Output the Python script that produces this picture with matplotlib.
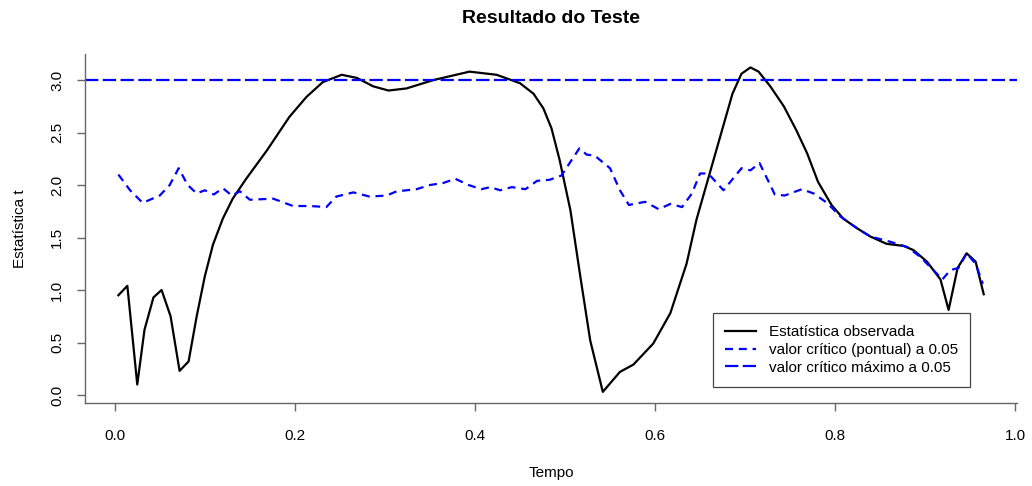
import matplotlib
matplotlib.use("Agg")
import matplotlib.pyplot as plt
import numpy as np

plt.rcParams['font.family'] = ['Liberation Sans', 'DejaVu Sans']

# observed statistic (black)
t_obs = [0.004, 0.014, 0.025, 0.033, 0.043, 0.052, 0.062, 0.072, 0.082, 0.091,
         0.100, 0.109, 0.120, 0.131, 0.146, 0.169, 0.194, 0.213, 0.231, 0.252,
         0.269, 0.287, 0.304, 0.324, 0.354, 0.394, 0.424, 0.450, 0.465, 0.476,
         0.485, 0.494, 0.506, 0.517, 0.528, 0.542, 0.561, 0.576, 0.598, 0.617,
         0.635, 0.646, 0.665, 0.676, 0.686, 0.696, 0.706, 0.715, 0.728, 0.743,
         0.757, 0.769, 0.781, 0.796, 0.809, 0.824, 0.839, 0.857, 0.876, 0.887,
         0.902, 0.917, 0.926, 0.936, 0.946, 0.956, 0.965]
y_obs = [0.95, 1.04, 0.10, 0.62, 0.93, 1.00, 0.75, 0.23, 0.32, 0.75,
         1.13, 1.43, 1.68, 1.87, 2.06, 2.33, 2.65, 2.84, 2.98, 3.05,
         3.02, 2.94, 2.90, 2.92, 3.00, 3.08, 3.05, 2.97, 2.87, 2.73,
         2.54, 2.24, 1.76, 1.13, 0.52, 0.03, 0.22, 0.29, 0.49, 0.78,
         1.25, 1.67, 2.24, 2.57, 2.87, 3.06, 3.12, 3.08, 2.94, 2.75,
         2.52, 2.30, 2.03, 1.81, 1.68, 1.59, 1.51, 1.44, 1.42, 1.38,
         1.27, 1.10, 0.81, 1.21, 1.35, 1.27, 0.96]

# pointwise critical value (blue dashed)
t_crit = [0.004, 0.017, 0.031, 0.050, 0.061, 0.071, 0.081, 0.091, 0.100, 0.110,
          0.120, 0.130, 0.139, 0.150, 0.176, 0.198, 0.217, 0.235, 0.246, 0.265,
          0.283, 0.302, 0.313, 0.335, 0.350, 0.365, 0.378, 0.393, 0.407, 0.417,
          0.428, 0.441, 0.456, 0.469, 0.483, 0.496, 0.506, 0.516, 0.524, 0.533,
          0.550, 0.561, 0.571, 0.589, 0.604, 0.617, 0.630, 0.641, 0.650, 0.659,
          0.676, 0.696, 0.706, 0.716, 0.733, 0.744, 0.763, 0.776, 0.791, 0.806,
          0.824, 0.839, 0.861, 0.880, 0.894, 0.909, 0.919, 0.928, 0.937, 0.946,
          0.956, 0.964]
y_crit = [2.10, 1.95, 1.83, 1.90, 2.00, 2.16, 2.00, 1.92, 1.95, 1.91,
          1.97, 1.90, 1.94, 1.86, 1.87, 1.80, 1.80, 1.79, 1.89, 1.93,
          1.89, 1.90, 1.94, 1.96, 2.00, 2.02, 2.06, 2.00, 1.96, 1.98,
          1.95, 1.98, 1.96, 2.04, 2.05, 2.09, 2.22, 2.35, 2.29, 2.28,
          2.16, 1.95, 1.81, 1.84, 1.77, 1.82, 1.79, 1.92, 2.11, 2.11,
          1.95, 2.16, 2.14, 2.21, 1.91, 1.90, 1.96, 1.92, 1.83, 1.70,
          1.59, 1.51, 1.46, 1.41, 1.32, 1.19, 1.10, 1.19, 1.21, 1.35,
          1.25, 1.06]

crit_max = 3.0

fig = plt.figure(figsize=(10.32, 4.86), dpi=100)
ax = fig.add_axes([0.0824, 0.1708, 0.9031, 0.7181])

ax.plot(t_obs, y_obs, color='black', lw=1.6, label='Estatística observada')
ax.plot(t_crit, y_crit, color='blue', lw=1.6, dashes=(3.6, 2.6),
        label='valor crítico (pontual) a 0.05')
ax.axhline(crit_max, color='blue', lw=1.6, dashes=(6.0, 2.0),
           label='valor crítico máximo a 0.05')

ax.set_xlim(-0.033, 1.002)
ax.set_ylim(-0.076, 3.248)
ax.set_xticks(np.arange(0, 1.01, 0.2))
ax.set_xticklabels(['0.0', '0.2', '0.4', '0.6', '0.8', '1.0'])
ax.set_yticks(np.arange(0, 3.01, 0.5))
ax.set_yticklabels(['0.0', '0.5', '1.0', '1.5', '2.0', '2.5', '3.0'],
                   rotation=90, va='center')

for s in ['top', 'right']:
    ax.spines[s].set_visible(False)
for s in ['left', 'bottom']:
    ax.spines[s].set_color('#666666')
    ax.spines[s].set_linewidth(1.0)
ax.tick_params(axis='both', colors='#666666', labelcolor='black',
               length=6, width=1.0, labelsize=11)
ax.tick_params(axis='x', pad=13)
ax.tick_params(axis='y', pad=9)

ax.set_title('Resultado do Teste', fontsize=14, fontweight='bold', pad=22)
ax.set_xlabel('Tempo', fontsize=11, labelpad=16)
ax.set_ylabel('Estatística t', fontsize=11, labelpad=17)

leg = ax.legend(loc='lower left', bbox_to_anchor=(0.674, 0.046),
                fontsize=11, fancybox=False, framealpha=1,
                edgecolor='#444444', handlelength=2.0, borderpad=0.8,
                labelspacing=0.25, handletextpad=0.85, borderaxespad=0)
leg.get_frame().set_linewidth(0.9)

fig.savefig('out.png', dpi=100)
